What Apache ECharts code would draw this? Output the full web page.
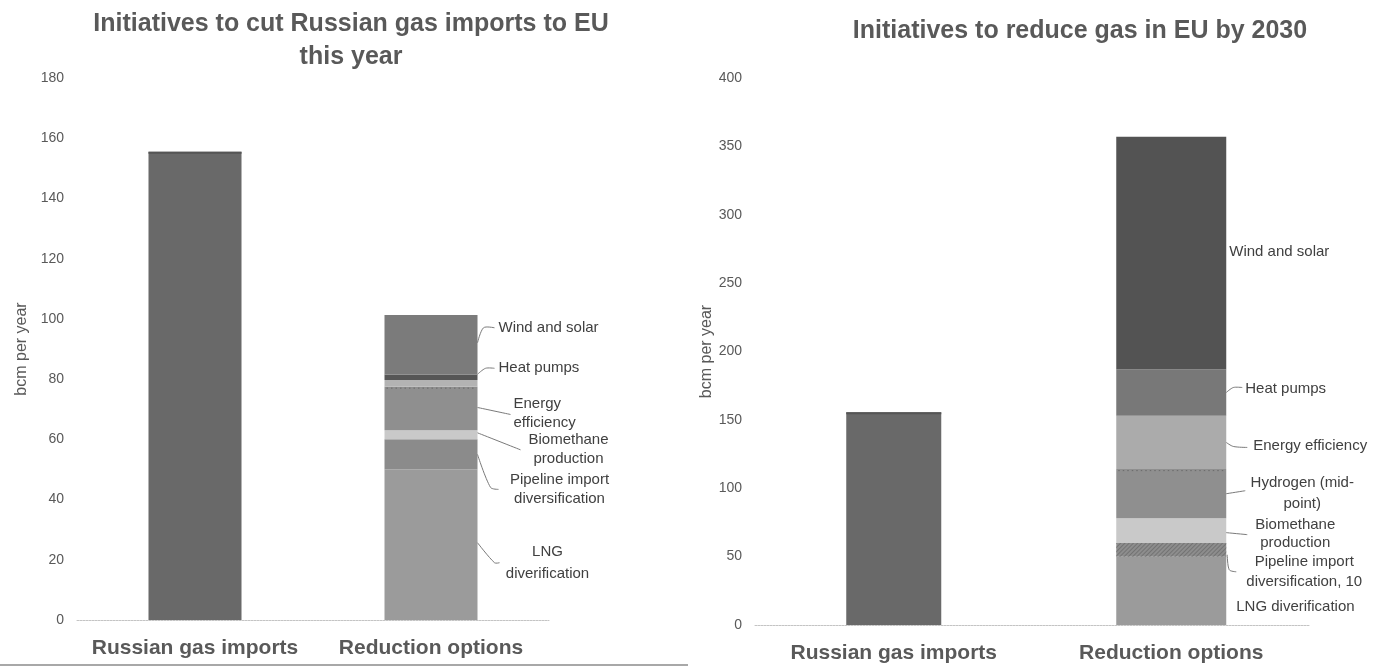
<!DOCTYPE html>
<html>
<head>
<meta charset="utf-8">
<script src="https://cdn.jsdelivr.net/npm/echarts@6/dist/echarts.min.js"></script>
<style>
  html, body { margin: 0; padding: 0; background: #ffffff; }
  #main { width: 1376px; height: 671px; }
</style>
</head>
<body>
<div id="main"></div>
<script>
// ---- data (bcm per year) ----
const categories = ['Russian gas imports', 'Reduction options'];

// Left panel: cuts possible this year
const importsThisYear = 155.5;
const cutNames = ['LNG diverification', 'Pipeline import diversification', 'Biomethane production',
  'Energy efficiency', 'Other measures', 'Heat pumps', 'Wind and solar'];
const cutValues = [50, 10, 3, 14.5, 2.2, 1.8, 19.8];
const cutLabels = ['LNG\ndiverification', 'Pipeline import\ndiversification', 'Biomethane\nproduction',
  'Energy\nefficiency', '', 'Heat pumps', 'Wind and solar'];
const yTickLabelsThisYear = [0, 20, 40, 60, 80, 100, 120, 140, 160, 180];

// Right panel: reductions by 2030
const imports2030 = 155.5;
const names2030 = ['LNG diverification', 'Pipeline import diversification', 'Biomethane production',
  'Hydrogen (mid-point)', 'Energy efficiency', 'Heat pumps', 'Wind and solar'];
const values2030 = [50, 10, 18, 36, 39, 34, 170];
const labels2030 = ['LNG diverification', 'Pipeline import\ndiversification, 10', 'Biomethane\nproduction',
  'Hydrogen (mid-\npoint)', 'Energy efficiency', 'Heat pumps', 'Wind and solar'];
const yTickLabels2030 = [0, 50, 100, 150, 200, 250, 300, 350, 400];

// ---- styling ----
const FONT = '"Liberation Sans", Arial, sans-serif';
const TXT = '#595959';
const LBL = '#404040';
const IMPORT_COLOR = '#696969';
const cutColors = ['#9b9b9b', '#8b8b8b', '#c9c9c9', '#8f8f8f', '#b3b3b3', '#565656', '#7b7b7b'];
const colors2030 = ['#9b9b9b', '#8d8d8d', '#c9c9c9', '#8f8f8f', '#ababab', '#787878', '#535353'];
const BAR_L = 93, BAR_R_IMPORT = 95, BAR_R_CUT = 110;

// Leader-line and text placement, relative to the bar's right edge and the segment middle
const cutLayout = [
  { line: [[0, -2], [17, 18], [22, 18]], tx: 70, ty: 18, align: 'center', lh: 22 },
  { line: [[0, 0], [13, 33], [21, 35]], tx: 82, ty: 35, align: 'center', lh: 19 },
  { line: [[0, -2], [43, 15]], tx: 91, ty: 15, align: 'center', lh: 19 },
  { line: [[0, -1], [33, 6]], tx: 36, ty: 5, align: 'left', lh: 19 },
  null,
  { line: [[0, -3], [8, -9], [17, -9]], tx: 21, ty: -9, align: 'left', lh: 19 },
  { line: [[0, -2], [6, -17], [17, -17]], tx: 21, ty: -17, align: 'left', lh: 19 }
];
const layout2030 = [
  { line: null, tx: 10, ty: 16, align: 'left', lh: 19 },
  { line: [[1, 5], [3, 20], [10, 22]], tx: 78, ty: 22, align: 'center', lh: 20 },
  { line: [[0, 2], [21, 4]], tx: 69, ty: 3.5, align: 'center', lh: 18 },
  { line: [[0, 0], [19, -3]], tx: 76, ty: 0, align: 'center', lh: 21 },
  { line: [[0, 0], [7, 4], [21, 5]], tx: 27, ty: 3.5, align: 'left', lh: 19 },
  { line: [[0, 0], [7, -5], [16, -5]], tx: 19, ty: -3.5, align: 'left', lh: 19 },
  { line: null, tx: 3, ty: -1, align: 'left', lh: 19 }
];

const chart = echarts.init(document.getElementById('main'), null, { renderer: 'canvas' });

function yAxisFor(ticks, grid, nameGap) {
  return {
    type: 'value', gridIndex: grid,
    min: ticks[0], max: ticks[ticks.length - 1], interval: ticks[1] - ticks[0],
    name: 'bcm per year', nameLocation: 'middle', nameGap: nameGap, nameRotate: 90,
    nameTextStyle: { color: TXT, fontFamily: FONT, fontSize: 16 },
    axisLine: { show: false }, axisTick: { show: false }, splitLine: { show: false },
    axisLabel: { color: TXT, fontFamily: FONT, fontSize: 14, margin: 13 }
  };
}
function xAxisFor(grid, visible) {
  return {
    type: 'category', gridIndex: grid, data: categories, show: visible,
    axisTick: { show: false },
    axisLine: { show: true, lineStyle: { color: '#c4c4c4', type: [2, 1], width: 1 } },
    axisLabel: { color: TXT, fontFamily: FONT, fontSize: 21, fontWeight: 'bold', margin: 18,
      interval: 0, hideOverlap: false }
  };
}

const series = [];
series.push({
  name: 'Russian gas imports', type: 'bar', xAxisIndex: 0, yAxisIndex: 0, stack: 'left',
  barWidth: BAR_L, data: [importsThisYear, '-'], itemStyle: { color: IMPORT_COLOR }, silent: true
});
cutNames.forEach((n, i) => series.push({
  name: n, type: 'bar', xAxisIndex: 0, yAxisIndex: 0, stack: 'left', barWidth: BAR_L,
  data: ['-', cutValues[i]], itemStyle: { color: cutColors[i] }, silent: true
}));
series.push({
  name: 'Russian gas imports', type: 'bar', xAxisIndex: 1, yAxisIndex: 1, stack: 'right',
  barWidth: BAR_R_IMPORT, data: [imports2030, '-'], itemStyle: { color: IMPORT_COLOR }, silent: true
});
names2030.forEach((n, i) => {
  const style = { color: colors2030[i] };
  if (i === 1) {
    style.decal = {
      symbol: 'rect', symbolSize: 1, rotation: -Math.PI / 4,
      dashArrayX: [1, 0], dashArrayY: [1, 2], color: 'rgba(105,105,105,0.75)'
    };
  }
  series.push({
    name: n, type: 'bar', xAxisIndex: 2, yAxisIndex: 1, stack: 'right2', barWidth: BAR_R_CUT,
    data: ['-', values2030[i]], itemStyle: style, silent: true
  });
});

chart.setOption({
  animation: false,
  backgroundColor: '#ffffff',
  title: [
    { text: 'Initiatives to cut Russian gas imports to EU\nthis year', left: 346, top: 3, textAlign: 'center',
      textStyle: { color: TXT, fontFamily: FONT, fontSize: 25, fontWeight: 'bold', lineHeight: 33 } },
    { text: 'Initiatives to reduce gas in EU by 2030', left: 1075, top: 10, textAlign: 'center',
      textStyle: { color: TXT, fontFamily: FONT, fontSize: 25, fontWeight: 'bold', lineHeight: 33 } }
  ],
  grid: [
    { left: 77, top: 78, width: 472, height: 542 },
    { left: 755, top: 78, width: 555, height: 547 }
  ],
  xAxis: [xAxisFor(0, true), xAxisFor(1, true), xAxisFor(1, false)],
  yAxis: [yAxisFor(yTickLabelsThisYear, 0, 47), yAxisFor(yTickLabels2030, 1, 39)],
  series: series
});

// Leader lines, segment labels and separators, placed through the chart's own scales
function annotate(gridIndex, xAxisIndex, barWidth, values, labels, layouts, dottedIndex) {
  const els = [];
  const cx = chart.convertToPixel({ xAxisIndex: xAxisIndex }, categories[1]);
  const right = cx + barWidth / 2;
  let cum = 0;
  values.forEach((v, i) => {
    const yMid = chart.convertToPixel({ yAxisIndex: gridIndex }, cum + v / 2);
    const yTop = chart.convertToPixel({ yAxisIndex: gridIndex }, cum + v);
    if (i === dottedIndex) {
      els.push({ type: 'line', silent: true, z: 10,
        shape: { x1: right - barWidth + 2, y1: yTop + 1.5, x2: right - 2, y2: yTop + 1.5 },
        style: { stroke: '#6a6a6a', lineWidth: 1, lineDash: [1.5, 3] } });
    }
    const lay = layouts[i];
    if (lay && labels[i]) {
      if (lay.line) {
        els.push({ type: 'polyline', silent: true, z: 10,
          shape: { points: lay.line.map(p => [right + p[0], yMid + p[1]]), smooth: 0.3 },
          style: { stroke: '#7a7a7a', lineWidth: 1, fill: null } });
      }
      els.push({ type: 'text', silent: true, z: 10,
        x: right + lay.tx, y: yMid + lay.ty,
        style: { text: labels[i], fill: LBL, font: '15px ' + FONT, align: lay.align,
          verticalAlign: 'middle', lineHeight: lay.lh } });
    }
    cum += v;
  });
  return els;
}
function importTop(xAxisIndex, yAxisIndex, barWidth, value) {
  const cx = chart.convertToPixel({ xAxisIndex: xAxisIndex }, categories[0]);
  const y = chart.convertToPixel({ yAxisIndex: yAxisIndex }, value);
  return { type: 'rect', silent: true, z: 10,
    shape: { x: cx - barWidth / 2, y: y, width: barWidth, height: 2 },
    style: { fill: '#555555' } };
}

const graphics = []
  .concat(annotate(0, 0, BAR_L, cutValues, cutLabels, cutLayout, 3))
  .concat(annotate(1, 2, BAR_R_CUT, values2030, labels2030, layout2030, 3));
graphics.push(importTop(0, 0, BAR_L, importsThisYear));
graphics.push(importTop(1, 1, BAR_R_IMPORT, imports2030));
graphics.push({ type: 'rect', silent: true, shape: { x: 0, y: 664, width: 688, height: 2 },
  style: { fill: '#a8a8a8' } });

chart.setOption({ graphic: graphics });
</script>
</body>
</html>
